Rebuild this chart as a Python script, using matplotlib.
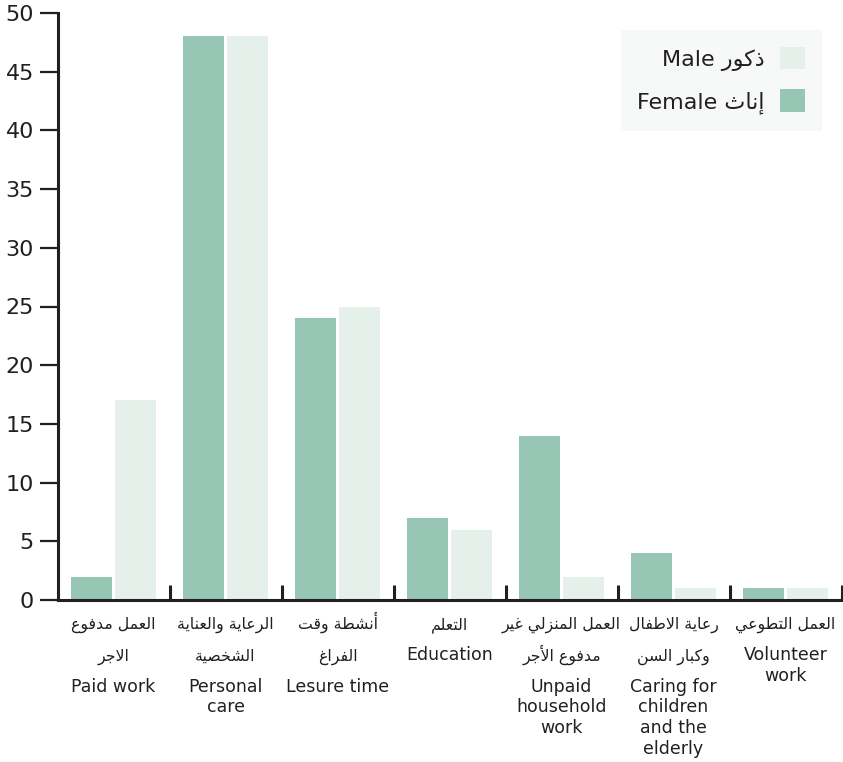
import matplotlib
matplotlib.use('Agg')
import matplotlib.pyplot as plt
from matplotlib.patches import Patch

# data (hours per week)
categories_ar = [
    ['العمل مدفوع', 'الاجر'],
    ['الرعاية والعناية', 'الشخصية'],
    ['أنشطة وقت', 'الفراغ'],
    ['التعلم'],
    ['العمل المنزلي غير', 'مدفوع الأجر'],
    ['رعاية الاطفال', 'وكبار السن'],
    ['العمل التطوعي'],
]
categories_en = [
    ['Paid work'],
    ['Personal', 'care'],
    ['Lesure time'],
    ['Education'],
    ['Unpaid', 'household', 'work'],
    ['Caring for', 'children', 'and the', 'elderly'],
    ['Volunteer', 'work'],
]
female = [2, 48, 24, 7, 14, 4, 1]
male = [17, 48, 25, 6, 2, 1, 1]
yticks = [0, 5, 10, 15, 20, 25, 30, 35, 40, 45, 50]

FEMALE_COL = '#97c6b4'
MALE_COL = '#e6f0eb'
INK = '#231f20'

# matplotlib does no arabic shaping, so map letters to presentation forms
DUAL = {'ب': 0xFE8F, 'ت': 0xFE95, 'ث': 0xFE99, 'ج': 0xFE9D, 'ح': 0xFEA1, 'خ': 0xFEA5,
        'س': 0xFEB1, 'ش': 0xFEB5, 'ص': 0xFEB9, 'ض': 0xFEBD, 'ط': 0xFEC1, 'ظ': 0xFEC5,
        'ع': 0xFEC9, 'غ': 0xFECD, 'ف': 0xFED1, 'ق': 0xFED5, 'ك': 0xFED9, 'ل': 0xFEDD,
        'م': 0xFEE1, 'ن': 0xFEE5, 'ه': 0xFEE9, 'ي': 0xFEF1}
RIGHT = {'ا': 0xFE8D, 'أ': 0xFE83, 'إ': 0xFE87, 'آ': 0xFE81, 'ة': 0xFE93, 'د': 0xFEA9,
         'ذ': 0xFEAB, 'ر': 0xFEAD, 'ز': 0xFEAF, 'و': 0xFEED, 'ى': 0xFEEF}
LAM_ALEF = {'ا': 0xFEFB, 'أ': 0xFEF7, 'إ': 0xFEF9, 'آ': 0xFEF5}


def shape(text):
    chars = list(text)
    n = len(chars)
    out = []
    i = 0
    while i < n:
        c = chars[i]
        prev_joins = i > 0 and chars[i - 1] in DUAL
        if c == 'ل' and i + 1 < n and chars[i + 1] in LAM_ALEF:
            base = LAM_ALEF[chars[i + 1]]
            out.append(chr(base + 1 if prev_joins else base))
            i += 2
            continue
        if c in DUAL:
            next_joins = i + 1 < n and (chars[i + 1] in DUAL or chars[i + 1] in RIGHT)
            b = DUAL[c]
            if prev_joins and next_joins:
                f = b + 3
            elif prev_joins:
                f = b + 1
            elif next_joins:
                f = b + 2
            else:
                f = b
            out.append(chr(f))
        elif c in RIGHT:
            out.append(chr(RIGHT[c] + (1 if prev_joins else 0)))
        else:
            out.append(c)
        i += 1
    return ''.join(reversed(out))


plt.rcParams['font.family'] = ['DejaVu Sans']

fig = plt.figure(figsize=(8.43, 7.62), dpi=100)
ax = fig.add_axes([57.5 / 843, 1 - 600 / 762, 784 / 843, 587 / 762])

x = list(range(len(female)))
w = 0.366
ax.bar([i - 0.2 for i in x], female, width=w, color=FEMALE_COL, zorder=2)
ax.bar([i + 0.2 for i in x], male, width=w, color=MALE_COL, zorder=2)

ax.set_xlim(-0.5, len(x) - 0.5)
ax.set_ylim(0, 50)
ax.set_yticks(yticks)
ax.set_yticklabels([str(v) for v in yticks], fontsize=16, color=INK)
ax.set_xticks([i + 0.5 for i in x])
ax.set_xticklabels([])

for s in ['top', 'right']:
    ax.spines[s].set_visible(False)
for s in ['left', 'bottom']:
    ax.spines[s].set_linewidth(2.2)
    ax.spines[s].set_color(INK)
ax.tick_params(axis='y', direction='out', length=13, width=1.6, color=INK, pad=4)
ax.tick_params(axis='x', direction='in', length=11, width=2.2, color=INK)

# category labels: arabic lines first, then english lines
for i in x:
    y = 29
    for line in categories_ar[i]:
        ax.annotate(shape(line), xy=(i, 0), xycoords=('data', 'axes fraction'),
                    xytext=(0, -y), textcoords='offset pixels',
                    ha='center', va='baseline', fontsize=11.3, color=INK)
        y += 31.5
    for line in categories_en[i]:
        ax.annotate(line, xy=(i, 0), xycoords=('data', 'axes fraction'),
                    xytext=(0, -y), textcoords='offset pixels',
                    ha='center', va='baseline', fontsize=12.5, color=INK)
        y += 20.5

handles = [Patch(facecolor=MALE_COL, edgecolor='none'),
           Patch(facecolor=FEMALE_COL, edgecolor='none')]
labels = ['Male ' + shape('ذكور'), 'Female ' + shape('إناث')]
leg = fig.legend(handles, labels, loc='upper right',
                 bbox_to_anchor=(822 / 843, 1 - 30 / 762), bbox_transform=fig.transFigure,
                 borderaxespad=0, markerfirst=False, fontsize=16,
                 handlelength=1.13, handleheight=1.2, handletextpad=0.7,
                 labelspacing=0.85, borderpad=0.75, frameon=True, fancybox=False)
leg.get_frame().set_facecolor('#f6f8f7')
leg.get_frame().set_edgecolor('none')
for t in leg.get_texts():
    t.set_color(INK)

fig.savefig('out.png', dpi=100)
